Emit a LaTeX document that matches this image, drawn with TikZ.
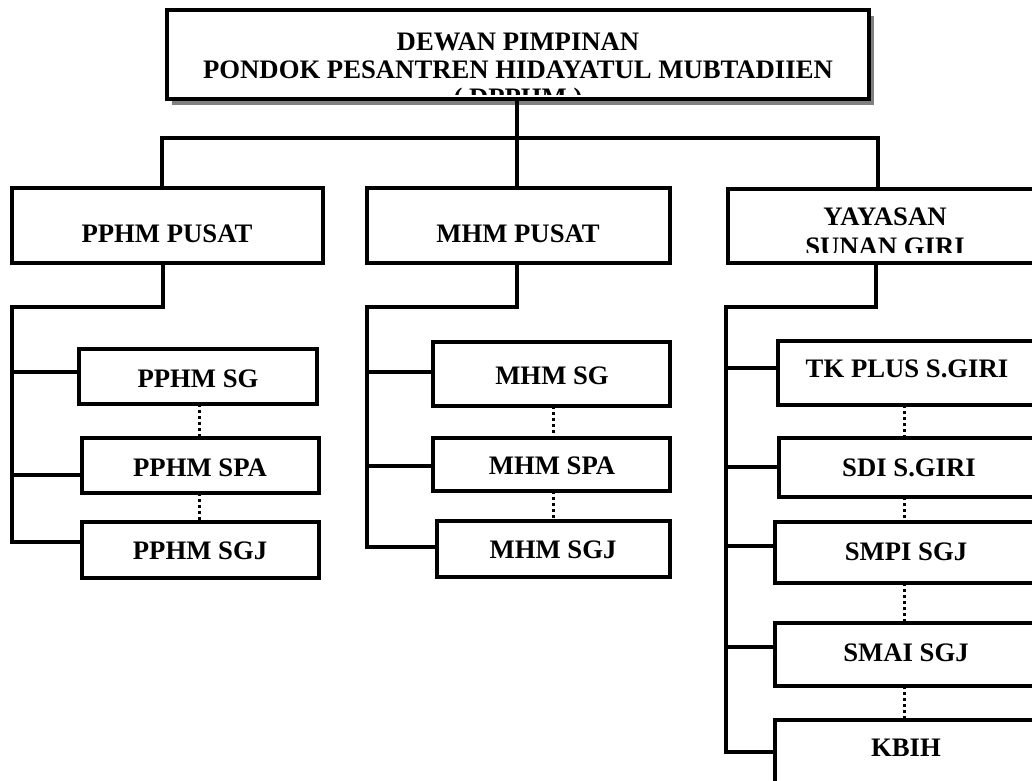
\documentclass[tikz,border=0pt]{standalone}
\usepackage{fontspec}
\setmainfont{Liberation Serif}
\usetikzlibrary{shadows}
\begin{document}
\begin{tikzpicture}[x=1pt,y=-1pt,
  box/.style={draw, line width=3.5pt, rectangle, inner sep=0pt, outer sep=0pt, anchor=north west, fill=white},
  conn/.style={line width=3.2pt},
  dotln/.style={line width=3pt, dash pattern=on 3pt off 3pt},
  lbl/.style={font=\bfseries\fontsize{26.7}{28}\selectfont, inner sep=0pt, anchor=base}]
\useasboundingbox (0,0) rectangle (1032,780);
\clip (0,0) rectangle (1032,780);

% named coordinates for buses
\coordinate (bL) at (162,138); \coordinate (bM) at (517,138); \coordinate (bR) at (878,138);
\coordinate (pd) at (163,307); \coordinate (pt) at (12,307);
\coordinate (pj1) at (12,372); \coordinate (pj2) at (12,475); \coordinate (pj3) at (12,542);
\coordinate (md) at (517,307); \coordinate (mt) at (367,307);
\coordinate (mj1) at (367,372); \coordinate (mj2) at (367,466); \coordinate (mj3) at (367,547);
\coordinate (yd) at (876,307); \coordinate (yt) at (726,307);
\coordinate (yj1) at (726,368); \coordinate (yj2) at (726,467); \coordinate (yj3) at (726,546);
\coordinate (yj4) at (726,647); \coordinate (yj5) at (726,752);
\coordinate (pdot) at (199,0); \coordinate (mdot) at (553,0); \coordinate (ydot) at (904,0);

% boxes
\node[box, minimum width=702pt, minimum height=89pt,
  drop shadow={shadow xshift=5pt, shadow yshift=-6pt, opacity=1, fill=black!50}] (top) at (167,10) {};
\node[box, minimum width=311pt, minimum height=75pt] (pphmP) at (12,188) {};
\node[box, minimum width=303pt, minimum height=75pt] (mhmP) at (367,188) {};
\node[box, minimum width=312pt, minimum height=74pt] (yay) at (728,189) {};
\node[box, minimum width=238pt, minimum height=55pt] (pphmSG) at (79,349) {};
\node[box, minimum width=237pt, minimum height=55pt] (pphmSPA) at (82,438) {};
\node[box, minimum width=237pt, minimum height=56pt] (pphmSGJ) at (82,522) {};
\node[box, minimum width=237pt, minimum height=64pt] (mhmSG) at (433,342) {};
\node[box, minimum width=237pt, minimum height=53pt] (mhmSPA) at (433,438) {};
\node[box, minimum width=233pt, minimum height=56pt] (mhmSGJ) at (437,521) {};
\node[box, minimum width=259pt, minimum height=64pt] (tk) at (778,341) {};
\node[box, minimum width=258pt, minimum height=59pt] (sdi) at (779,438) {};
\node[box, minimum width=262pt, minimum height=61pt] (smpi) at (775,522) {};
\node[box, minimum width=262pt, minimum height=63pt] (smai) at (775,623) {};
\node[box, minimum width=262pt, minimum height=80pt] (kbih) at (775,720) {};

% top-level connectors
\draw[conn] (top.south -| bM) -- (bM);
\draw[conn] (bL |- pphmP.north) -- (bL) -- (bR) -- (bR |- yay.north);
\draw[conn] (bM) -- (bM |- mhmP.north);

% PPHM branch
\draw[conn] (pd |- pphmP.south) -- (pd) -- (pt) -- (pj3) -- (pj3 -| pphmSGJ.west);
\draw[conn] (pj1) -- (pj1 -| pphmSG.west);
\draw[conn] (pj2) -- (pj2 -| pphmSPA.west);
\draw[dotln] (pdot |- pphmSG.south) -- (pdot |- pphmSPA.north);
\draw[dotln] (pdot |- pphmSPA.south) -- (pdot |- pphmSGJ.north);

% MHM branch
\draw[conn] (md |- mhmP.south) -- (md) -- (mt) -- (mj3) -- (mj3 -| mhmSGJ.west);
\draw[conn] (mj1) -- (mj1 -| mhmSG.west);
\draw[conn] (mj2) -- (mj2 -| mhmSPA.west);
\draw[dotln] (mdot |- mhmSG.south) -- (mdot |- mhmSPA.north);
\draw[dotln] (mdot |- mhmSPA.south) -- (mdot |- mhmSGJ.north);

% Yayasan branch
\draw[conn] (yd |- yay.south) -- (yd) -- (yt) -- (yj5) -- (yj5 -| kbih.west);
\draw[conn] (yj1) -- (yj1 -| tk.west);
\draw[conn] (yj2) -- (yj2 -| sdi.west);
\draw[conn] (yj3) -- (yj3 -| smpi.west);
\draw[conn] (yj4) -- (yj4 -| smai.west);
\draw[dotln] (ydot |- tk.south) -- (ydot |- sdi.north);
\draw[dotln] (ydot |- sdi.south) -- (ydot |- smpi.north);
\draw[dotln] (ydot |- smpi.south) -- (ydot |- smai.north);
\draw[dotln] (ydot |- smai.south) -- (ydot |- kbih.north);

% texts
\begin{scope}
\clip (top.north west) rectangle ([yshift=5pt]top.south east);
\node[lbl] (t1) at (518,50) {DEWAN PIMPINAN};
\node[lbl] (t2) at (518,78) {PONDOK PESANTREN HIDAYATUL MUBTADIIEN};
\node[lbl] (t3) at (518,106) {( DPPHM )};
\end{scope}
\begin{scope}
\clip (yay.north west) rectangle ([yshift=11pt]yay.south east);
\node[lbl] (ty1) at (885,225) {YAYASAN};
\node[lbl] (ty2) at (885,255) {SUNAN GIRI};
\end{scope}
\node[lbl] (tp) at (167,242) {PPHM PUSAT};
\node[lbl] (tm) at (518,242) {MHM PUSAT};
\node[lbl] (tp1) at (198,387) {PPHM SG};
\node[lbl] (tp2) at (200,476) {PPHM SPA};
\node[lbl] (tp3) at (200,559) {PPHM SGJ};
\node[lbl] (tm1) at (552,384) {MHM SG};
\node[lbl] (tm2) at (552,474) {MHM SPA};
\node[lbl] (tm3) at (553,558) {MHM SGJ};
\node[lbl] (ty3) at (907,377) {TK PLUS S.GIRI};
\node[lbl] (ty4) at (909,476) {SDI S.GIRI};
\node[lbl] (ty5) at (906,560) {SMPI SGJ};
\node[lbl] (ty6) at (906,661) {SMAI SGJ};
\node[lbl] (ty7) at (906,756) {KBIH};
\end{tikzpicture}
\end{document}
